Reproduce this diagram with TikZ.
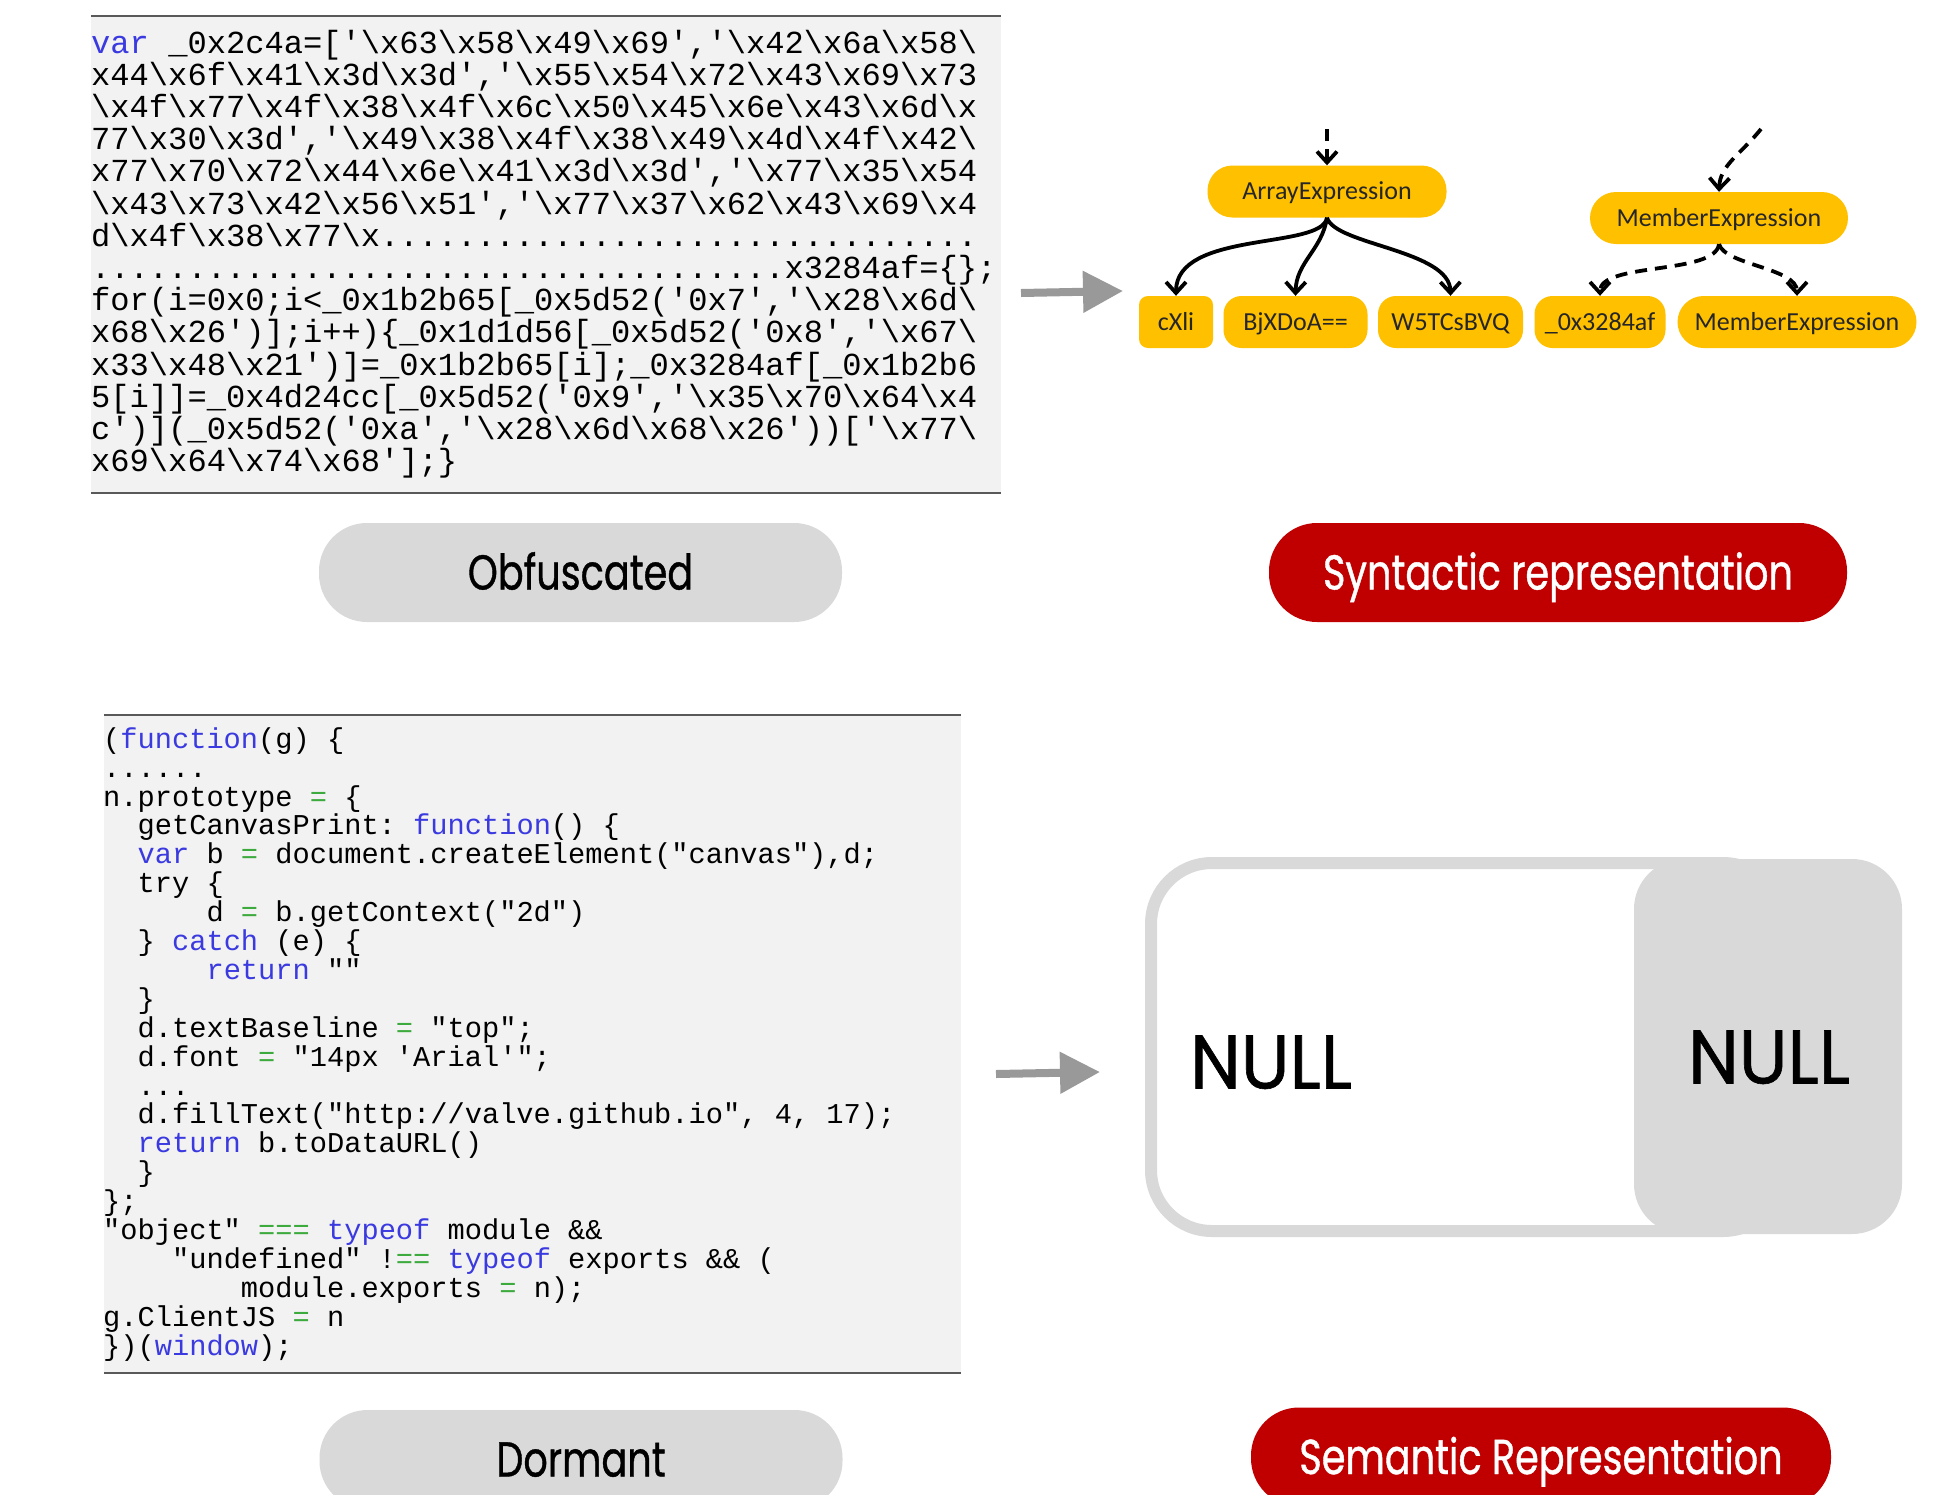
\documentclass[tikz,border=0pt]{standalone}
\usepackage{fontspec}
\usetikzlibrary{arrows.meta}
\newfontfamily\codefont{Liberation Mono}[Ligatures=TeXOff]
\newfontfamily\pillfont{Poppins}[FakeStretch=0.78, FakeBold=0.8]
\newfontfamily\bigcapsfont{Poppins}[FakeStretch=0.95, FakeBold=0.8]
\newfontfamily\treefont{Carlito}
\definecolor{kwblue}{HTML}{3A3AE0}
\definecolor{opgreen}{HTML}{3DAA3D}
\definecolor{codebg}{HTML}{F2F2F2}
\definecolor{rulegray}{HTML}{595959}
\definecolor{pillgray}{HTML}{D9D9D9}
\definecolor{pillred}{HTML}{C00000}
\definecolor{gold}{HTML}{FFC000}
\definecolor{arrowgray}{HTML}{999999}
\newcommand\kw[1]{\textcolor{kwblue}{#1}}
\newcommand\op[1]{\textcolor{opgreen}{#1}}
\newcommand\bs{\textbackslash}
\newcommand\ind[1]{\phantom{#1}}
\newcommand\codeTop{\codefont\fontsize{32.1}{32.2}\selectfont\frenchspacing\lineskiplimit=-20pt\lineskip=0pt}
\newcommand\codeBot{\codefont\fontsize{28.7}{28.9}\selectfont\frenchspacing\lineskiplimit=-20pt\lineskip=0pt}
\tikzset{
  codebox/.style={fill=codebg, inner sep=0pt},
  coderule/.style={draw=rulegray, line width=2.5pt},
  codetext/.style={anchor=north west, inner sep=0pt, align=left},
  pill/.style={rounded corners=48pt, minimum width=#1, minimum height=99pt, inner sep=0pt,
    font=\pillfont\fontsize{49}{49}\selectfont, text height=34pt, text depth=0pt},
  graypill/.style={pill=#1, fill=pillgray, text=black},
  redpill/.style={pill=#1, fill=pillred, text=white},
  astnode/.style 2 args={fill=gold, rounded corners=#2, minimum width=#1, minimum height=52pt,
    inner sep=0pt, font=\treefont\fontsize{26}{26}\selectfont, text=black!85,
    text height=16.7pt, text depth=0pt},
  treearrow/.style={line width=3.8pt, -{Straight Barb[length=11pt,width=20pt]}},
  dasharrow/.style={treearrow, dash pattern=on 12pt off 8pt},
  grayarrow/.style={draw=arrowgray, line width=8pt, -{Triangle[length=40pt,width=40pt]}},
  nulltext/.style={font=\bigcapsfont\fontsize{76}{76}\selectfont, text height=53pt, text depth=0pt, inner sep=0pt}
}
\begin{document}
\begin{tikzpicture}[x=1pt, y=-1pt]
\useasboundingbox[fill=white] (0,0) rectangle (1957,1494);

% obfuscated source listing
\node[codebox, minimum width=910pt, minimum height=477pt] (topbox) at (546,254.5) {};
\draw[coderule] (topbox.north west) -- (topbox.north east);
\draw[coderule] (topbox.south west) -- (topbox.south east);
\node[codetext, font=\codeTop] (topcode) at (91,24.1) {%
\rule{0pt}{0.9em}\kw{var} \_0x2c4a=['\bs x63\bs x58\bs x49\bs x69','\bs x42\bs x6a\bs x58\bs\\
x44\bs x6f\bs x41\bs x3d\bs x3d','\bs x55\bs x54\bs x72\bs x43\bs x69\bs x73\\
\bs x4f\bs x77\bs x4f\bs x38\bs x4f\bs x6c\bs x50\bs x45\bs x6e\bs x43\bs x6d\bs x\\
77\bs x30\bs x3d','\bs x49\bs x38\bs x4f\bs x38\bs x49\bs x4d\bs x4f\bs x42\bs\\
x77\bs x70\bs x72\bs x44\bs x6e\bs x41\bs x3d\bs x3d','\bs x77\bs x35\bs x54\\
\bs x43\bs x73\bs x42\bs x56\bs x51','\bs x77\bs x37\bs x62\bs x43\bs x69\bs x4\\
d\bs x4f\bs x38\bs x77\bs x...............................\\
....................................x3284af=\{\};\\
for(i=0x0;i<\_0x1b2b65[\_0x5d52('0x7','\bs x28\bs x6d\bs\\
x68\bs x26')];i++)\{\_0x1d1d56[\_0x5d52('0x8','\bs x67\bs\\
x33\bs x48\bs x21')]=\_0x1b2b65[i];\_0x3284af[\_0x1b2b6\\
5[i]]=\_0x4d24cc[\_0x5d52('0x9','\bs x35\bs x70\bs x64\bs x4\\
c')](\_0x5d52('0xa','\bs x28\bs x6d\bs x68\bs x26'))['\bs x77\bs\\
x69\bs x64\bs x74\bs x68'];\}};

% dormant source listing
\node[codebox, minimum width=857pt, minimum height=658pt] (botbox) at (532.5,1044) {};
\draw[coderule] (botbox.north west) -- (botbox.north east);
\draw[coderule] (botbox.south west) -- (botbox.south east);
\node[codetext, font=\codeBot] (botcode) at (103,722.2) {%
\rule{0pt}{0.9em}(\kw{function}(g) \{\\
......\\
n.prototype \op{=} \{\\
\ind{xx}getCanvasPrint: \kw{function}() \{\\
\ind{xx}\kw{var} b \op{=} document.createElement("canvas"),d;\\
\ind{xx}try \{\\
\ind{xxxxxx}d \op{=} b.getContext("2d")\\
\ind{xx}\} \kw{catch} (e) \{\\
\ind{xxxxxx}\kw{return} ""\\
\ind{xx}\}\\
\ind{xx}d.textBaseline \op{=} "top";\\
\ind{xx}d.font \op{=} "14px 'Arial'";\\
\ind{xx}...\\
\ind{xx}d.fillText("http://valve.github.io", 4, 17);\\
\ind{xx}\kw{return} b.toDataURL()\\
\ind{xx}\}\\
\};\\
"object" \op{===} \kw{typeof} module \&\&\\
\ind{xxxx}"undefined" !\op{==} \kw{typeof} exports \&\& (\\
\ind{xxxxxxxx}module.exports \op{=} n);\\
g.ClientJS \op{=} n\\
\})(\kw{window});};

% captions
\node[graypill=523pt] (obf) at (580.5,572.5) {Obfuscated};
\node[redpill=578pt] (syn) at (1558,572.5) {Syntactic representation};
\node[graypill=523pt] (dor) at (581,1459.5) {Dormant};
\node[redpill=580pt] (sem) at (1541,1457) {Semantic Representation};

% syntax tree
\node[astnode={239pt}{25pt}] (ae) at (1327,191.5) {ArrayExpression};
\node[astnode={258pt}{26pt}] (me1) at (1719,218) {MemberExpression};
\node[astnode={74pt}{9pt}] (c1) at (1176,322) {cXli};
\node[astnode={144pt}{18pt}] (c2) at (1295.5,322) {BjXDoA==};
\node[astnode={145pt}{18pt}] (c3) at (1450.5,322) {W5TCsBVQ};
\node[astnode={131pt}{18pt}] (c4) at (1600,322) {\_0x3284af};
\node[astnode={239pt}{26pt}] (c5) at (1797,322) {MemberExpression};

\coordinate (inA) at (1327,129);
\coordinate (inM) at (1761,129);
\draw[dasharrow] (inA) -- (ae.north);
\draw[dasharrow] (inM) .. controls (1740,155) and (1720,165) .. (me1.north);
\draw[treearrow] (ae.south) .. controls (1322,250) and (1176,230) .. (c1.north);
\draw[treearrow] (ae.south) .. controls (1322,250) and (1296,262) .. (c2.north);
\draw[treearrow] (ae.south) .. controls (1335,245) and (1450,250) .. (c3.north);
\draw[dasharrow] (me1.south) .. controls (1715,275) and (1600,262) .. (c4.north);
\draw[dasharrow] (me1.south) .. controls (1725,265) and (1797,268) .. (c5.north);

% empty semantic representation
\node[draw=pillgray, fill=white, line width=12pt, rounded corners=61pt,
  minimum width=633pt, minimum height=368pt, inner sep=0pt] (nullbox) at (1467.5,1047) {};
\node[fill=pillgray, rounded corners=50pt, minimum width=268pt, minimum height=375pt,
  inner sep=0pt] (nullside) at (1768,1046.5) {};
\node[nulltext] (nullA) at (1271,1062) {NULL};
\node[nulltext] (nullB) at (1769,1057) {NULL};

% transformation arrows
\coordinate (t1s) at (1021,293);
\coordinate (t1e) at (1123,291);
\draw[grayarrow] (t1s) -- (t1e);
\coordinate (t2s) at (996,1074);
\coordinate (t2e) at (1100,1072);
\draw[grayarrow] (t2s) -- (t2e);
\end{tikzpicture}
\end{document}
